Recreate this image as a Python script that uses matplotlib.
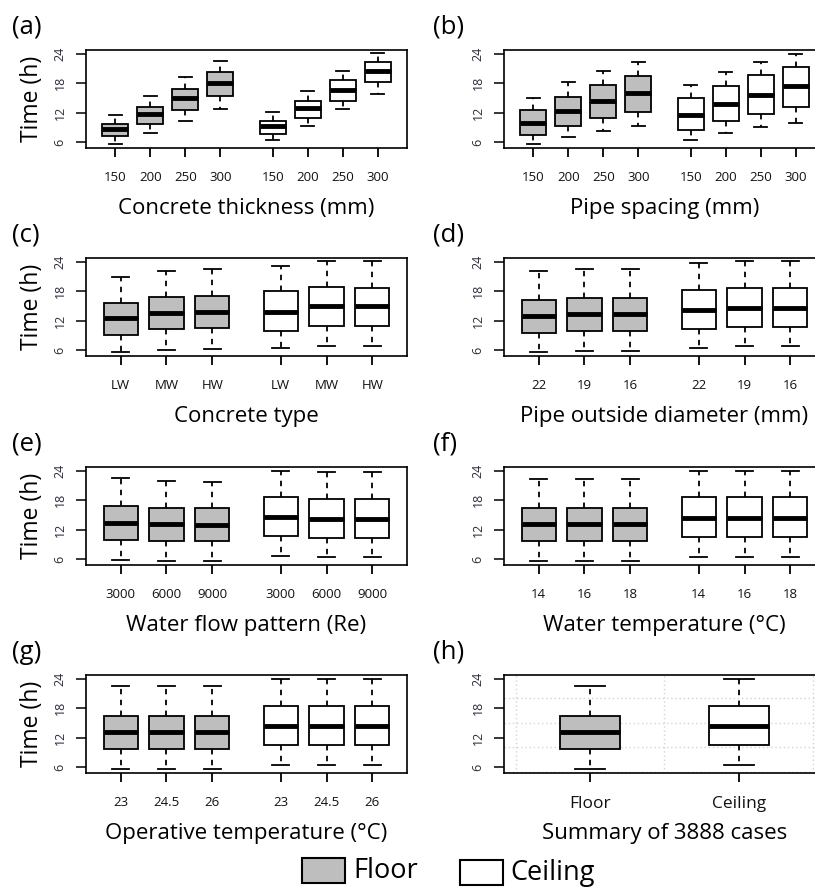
import matplotlib
matplotlib.use('Agg')
import matplotlib.pyplot as plt
from matplotlib.patches import Rectangle

plt.rcParams['font.family'] = ['Open Sans', 'DejaVu Sans']

# five-number summaries: (lower whisker, Q1, median, Q3, upper whisker)
thick_labels = ['150', '200', '250', '300']
thick_floor = [(5.5, 7.2, 8.75, 9.65, 11.5), (7.9, 9.65, 11.7, 13.2, 15.5),
               (10.2, 12.5, 14.9, 16.85, 19.2), (12.8, 15.3, 18.15, 20.3, 22.5)]
thick_ceil = [(6.5, 7.7, 9.2, 10.3, 12.05), (9.3, 10.95, 12.95, 14.45, 16.5),
              (12.7, 14.45, 16.65, 18.65, 20.6), (15.75, 18.2, 20.55, 22.35, 24.1)]

spacing_labels = ['150', '200', '250', '300']
spacing_floor = [(5.65, 7.37, 9.97, 12.5, 15.05), (7.0, 9.2, 12.3, 15.25, 18.2),
                 (8.2, 10.8, 14.3, 17.55, 20.5), (9.3, 12.15, 16.0, 19.4, 22.4)]
spacing_ceil = [(6.5, 8.5, 11.6, 14.9, 17.7), (7.85, 10.25, 13.85, 17.4, 20.4),
                (9.0, 11.75, 15.7, 19.6, 22.4), (9.97, 13.05, 17.35, 21.25, 24.05)]

ctype_labels = ['LW', 'MW', 'HW']
ctype_floor = [(5.5, 9.0, 12.45, 15.6, 20.9), (6.0, 10.2, 13.55, 16.9, 22.2),
               (6.2, 10.5, 13.7, 16.95, 22.55)]
ctype_ceil = [(6.5, 9.95, 13.8, 18.0, 23.2), (6.8, 10.85, 15.0, 18.95, 24.2),
              (6.75, 11.0, 15.0, 18.75, 24.2)]

diam_labels = ['22', '19', '16']
diam_floor = [(5.5, 9.45, 12.85, 16.2, 22.1), (5.85, 9.8, 13.4, 16.65, 22.55),
              (5.85, 9.8, 13.4, 16.65, 22.55)]
diam_ceil = [(6.4, 10.3, 14.25, 18.3, 23.85), (6.75, 10.65, 14.6, 18.75, 24.2),
             (6.75, 10.65, 14.6, 18.75, 24.2)]

flow_labels = ['3000', '6000', '9000']
flow_floor = [(5.8, 9.9, 13.4, 16.8, 22.5), (5.6, 9.65, 13.1, 16.5, 21.9),
              (5.6, 9.6, 13.0, 16.35, 21.7)]
flow_ceil = [(6.6, 10.6, 14.6, 18.7, 24.05), (6.5, 10.3, 14.2, 18.3, 23.7),
             (6.5, 10.2, 14.2, 18.2, 23.7)]

wtemp_labels = ['14', '16', '18']
wtemp_floor = [(5.6, 9.7, 13.1, 16.5, 22.4)] * 3
wtemp_ceil = [(6.4, 10.4, 14.4, 18.6, 24.05)] * 3

otemp_labels = ['23', '24.5', '26']
otemp_floor = [(5.6, 9.65, 13.15, 16.45, 22.5)] * 3
otemp_ceil = [(6.5, 10.4, 14.45, 18.55, 24.05)] * 3

summary_labels = ['Floor', 'Ceiling']
summary_floor = [(5.6, 9.65, 13.2, 16.45, 22.5)]
summary_ceil = [(6.5, 10.4, 14.45, 18.55, 24.05)]

panels = [
    ('(a)', 'Concrete thickness (mm)', thick_labels, thick_floor, thick_ceil),
    ('(b)', 'Pipe spacing (mm)', spacing_labels, spacing_floor, spacing_ceil),
    ('(c)', 'Concrete type', ctype_labels, ctype_floor, ctype_ceil),
    ('(d)', 'Pipe outside diameter (mm)', diam_labels, diam_floor, diam_ceil),
    ('(e)', 'Water flow pattern (Re)', flow_labels, flow_floor, flow_ceil),
    ('(f)', 'Water temperature (°C)', wtemp_labels, wtemp_floor, wtemp_ceil),
    ('(g)', 'Operative temperature (°C)', otemp_labels, otemp_floor, otemp_ceil),
]

W, H = 815, 888
fig = plt.figure(figsize=(W / 100, H / 100), dpi=100)

FLOOR = '#bebebe'
TICKCOL = '#2b2b3b'


def add_px_axes(l, t, r, b):
    return fig.add_axes([l / W, 1 - b / H, (r - l) / W, (b - t) / H])


def stats_of(five):
    lo, q1, med, q3, hi = five
    return dict(whislo=lo, q1=q1, med=med, q3=q3, whishi=hi, fliers=[])


def draw_boxes(ax, stats, pos, face, width):
    ax.bxp([stats_of(s) for s in stats], positions=pos, widths=width,
           patch_artist=True, showfliers=False, manage_ticks=False,
           boxprops=dict(facecolor=face, edgecolor='black', linewidth=1.3),
           whiskerprops=dict(color='black', linewidth=1.3, linestyle=(0, (3, 3))),
           capprops=dict(color='black', linewidth=1.3),
           medianprops=dict(color='black', linewidth=3.5, solid_capstyle='butt'),
           capwidths=width * 0.5)


def style_axes(ax, xlo, xhi):
    # R style: range padded by 4% on each side
    rng = xhi - xlo
    ax.set_xlim(xlo - 0.04 * rng, xhi + 0.04 * rng)
    ax.set_ylim(4.77, 24.8)
    ax.set_yticks([6, 12, 18, 24])
    ax.set_yticklabels(['6', '12', '18', '24'], rotation=90, va='center',
                       fontsize=9, color=TICKCOL)
    ax.tick_params(axis='y', direction='out', length=7, width=1.1, pad=7)
    ax.tick_params(axis='x', direction='out', length=6.5, width=1.3, pad=10)
    for sp in ax.spines.values():
        sp.set_linewidth(1.2)


lefts = [(86, 407), (504, 825)]
tops = [50, 258, 467, 675]
AH = 98
tag_x = [12, 433]

for i, (tag, xlabel, labels, floor, ceil) in enumerate(panels):
    row, col = divmod(i, 2)
    l, r = lefts[col]
    t = tops[row]
    ax = add_px_axes(l, t, r, t + AH)
    n = len(labels)
    pf = [k + 1 for k in range(n)]
    pc = [n + 1.5 + k for k in range(n)]
    draw_boxes(ax, floor, pf, FLOOR, 0.75)
    draw_boxes(ax, ceil, pc, 'white', 0.75)
    style_axes(ax, 0.5, pc[-1] + 0.5)
    ax.set_xticks(pf + pc)
    ax.set_xticklabels(labels + labels, fontsize=9.5, color='#111111')
    fig.text(tag_x[col] / W, 1 - (t - 23) / H, tag, fontsize=18.5,
             ha='left', va='center')
    fig.text((l + r) / 2 / W, 1 - (t + AH + 60) / H, xlabel, fontsize=16,
             ha='center', va='center')
    if col == 0:
        fig.text(32 / W, 1 - (t + AH / 2) / H, 'Time (h)', fontsize=16.5,
                 rotation=90, ha='center', va='center')

# panel (h): summary of all cases
l, r = lefts[1]
t = tops[3]
axh = add_px_axes(l, t, r, t + AH)
for y in [5, 10, 15, 20]:
    axh.axhline(y, color='#d3d3d3', linewidth=1, linestyle=(0, (1, 2)), zorder=0)
for x in [0.5, 1.5, 2.5]:
    axh.axvline(x, color='#d3d3d3', linewidth=1, linestyle=(0, (1, 2)), zorder=0)
draw_boxes(axh, summary_floor, [1], FLOOR, 0.4)
draw_boxes(axh, summary_ceil, [2], 'white', 0.4)
style_axes(axh, 0.5, 2.5)
axh.set_xticks([1, 2])
axh.set_xticklabels(summary_labels, fontsize=12.5, color='#111111')
fig.text(tag_x[1] / W, 1 - (t - 23) / H, '(h)', fontsize=18.5, ha='left', va='center')
fig.text((l + r) / 2 / W, 1 - (t + AH + 60) / H, 'Summary of 3888 cases',
         fontsize=16, ha='center', va='center')

# legend drawn in pixel space
lg = fig.add_axes([0, 0, 1, 1])
lg.set_xlim(0, W)
lg.set_ylim(H, 0)
lg.axis('off')
lg.add_patch(Rectangle((302, 858), 43, 25, facecolor=FLOOR, edgecolor='black', linewidth=1.5))
lg.text(353, 871, 'Floor', fontsize=19.5, ha='left', va='center')
lg.add_patch(Rectangle((460, 860), 43, 25, facecolor='white', edgecolor='black', linewidth=1.5))
lg.text(510, 873, 'Ceiling', fontsize=19.5, ha='left', va='center')

fig.savefig('out.png', dpi=100)
